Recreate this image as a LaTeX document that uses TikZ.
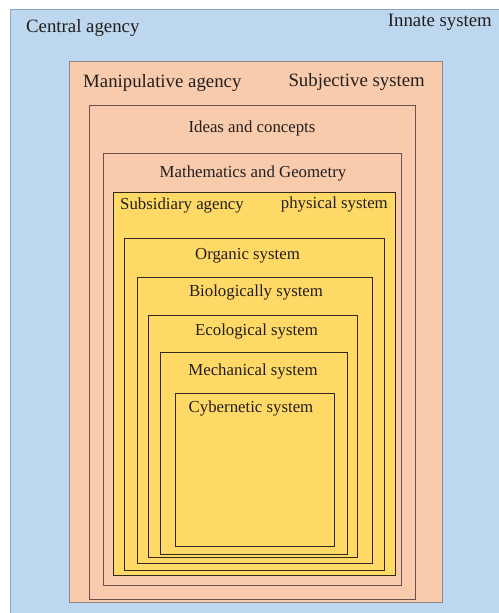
\documentclass[tikz,border=0pt]{standalone}
\usepackage{fontspec}
\setmainfont{Liberation Serif}
\definecolor{bluefill}{RGB}{189,215,238}
\definecolor{blueline}{RGB}{140,165,195}
\definecolor{salfill}{RGB}{248,203,173}
\definecolor{salline}{RGB}{140,135,135}
\definecolor{brownline}{RGB}{110,80,80}
\definecolor{yelfill}{RGB}{255,217,102}
\definecolor{yelline}{RGB}{50,40,30}
\definecolor{txt}{RGB}{35,30,30}
\begin{document}
\begin{tikzpicture}[x=1pt,y=-1pt,
  big/.style={font=\fontsize{18.8}{21}\selectfont, text=txt, inner sep=0pt},
  small/.style={font=\fontsize{16.8}{19}\selectfont, text=txt, inner sep=0pt},
  salbox/.style={fill=salfill, draw=salline, line width=1pt},
  brbox/.style={fill=salfill, draw=brownline, line width=1pt},
  yelbox/.style={fill=yelfill, draw=yelline, line width=0.9pt}]
\useasboundingbox (0,0) rectangle (498,613);
\fill[white] (0,0) rectangle (498,613);
\draw[fill=bluefill, draw=blueline, line width=1pt] (10,9.5) rectangle (520,640);
\draw[salbox] (69,61) rectangle (442,602);
\draw[brbox] (89,105) rectangle (415,599);
\draw[brbox] (103,153) rectangle (401,585);
\draw[yelbox] (113,192) rectangle (395,575);
\draw[yelbox] (124,238) rectangle (384,570);
\draw[yelbox] (137,277) rectangle (372,563);
\draw[yelbox] (148,315) rectangle (357,557);
\draw[yelbox] (160,352) rectangle (347,554);
\draw[yelbox] (175,393) rectangle (334,546);
\node[big, anchor=base west] (central) at (26,32) {Central agency};
\node[big, anchor=base east] (innate) at (492,27) {Innate system};
\node[big, anchor=base west] (manip) at (83,87) {Manipulative agency};
\node[big, anchor=base east] (subj) at (425,86) {Subjective system};
\node[small, anchor=base] (ideas) at (252,132) {Ideas and concepts};
\node[small, anchor=base] (math) at (253,177) {Mathematics and Geometry};
\node[small, anchor=base west] (subs) at (120,209) {Subsidiary agency};
\node[small, anchor=base east] (phys) at (388,208) {physical system};
\node[small, anchor=base] (org) at (247.5,259) {Organic system};
\node[small, anchor=base] (bio) at (256,296) {Biologically system};
\node[small, anchor=base] (eco) at (256.5,335) {Ecological system};
\node[small, anchor=base] (mech) at (253,375) {Mechanical system};
\node[small, anchor=base] (cyb) at (251,412) {Cybernetic system};
\end{tikzpicture}
\end{document}
